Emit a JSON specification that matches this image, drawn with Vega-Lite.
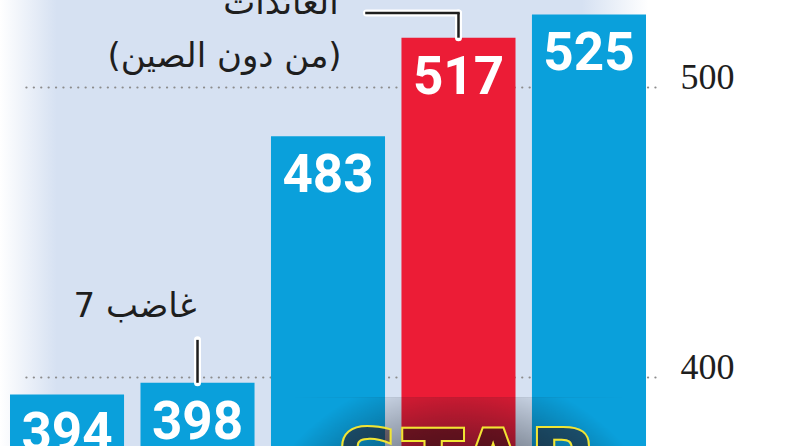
{
  "$schema": "https://vega.github.io/schema/vega-lite/v6.json",
  "width": 665,
  "height": 446,
  "autosize": {"type": "none"},
  "padding": {"left": 0, "top": 0, "right": 127, "bottom": 0},
  "background": "#ffffff",
  "config": {
    "view": {
      "stroke": null,
      "fill": {
        "gradient": "linear",
        "x1": 0, "y1": 0, "x2": 1, "y2": 0,
        "stops": [
          {"offset": 0, "color": "#ffffff"},
          {"offset": 0.085, "color": "#d6e1f2"},
          {"offset": 0.875, "color": "#d6e1f2"},
          {"offset": 0.975, "color": "#ffffff"},
          {"offset": 1, "color": "#ffffff"}
        ]
      }
    }
  },
  "datasets": {
    "bars": [
      {"film": "المنتقمون: عصر ألترون", "value": 394, "type": "other"},
      {"film": "غاضب 7", "value": 398, "type": "other"},
      {"film": "هاري بوتر", "value": 483, "type": "other"},
      {"film": "حرب النجوم", "value": 517, "type": "current"},
      {"film": "عالم الديناصورات", "value": 525, "type": "other"}
    ]
  },
  "data": {"name": "bars"},
  "encoding": {
    "x": {
      "field": "film",
      "type": "nominal",
      "sort": null,
      "axis": null,
      "scale": {"range": [10, 646], "paddingInner": 0.126, "paddingOuter": 0}
    }
  },
  "layer": [
    {
      "mark": {"type": "bar", "clip": true},
      "encoding": {
        "y": {
          "field": "value",
          "type": "quantitative",
          "scale": {"domain": [376.2, 530], "zero": false, "nice": false},
          "axis": {
            "orient": "right",
            "values": [400, 500],
            "grid": true,
            "gridDash": [0.1, 7.3],
            "gridCap": "round",
            "gridWidth": 2.2,
            "gridColor": "#8c8c8c",
            "ticks": false,
            "domain": false,
            "title": null,
            "labelFont": "Liberation Serif",
            "labelFontSize": 36,
            "labelColor": "#1e1e1e",
            "labelBaseline": "alphabetic",
            "labelAlign": "left",
            "labelPadding": 15,
            "labelOffset": 2
          }
        },
        "color": {
          "field": "type",
          "type": "nominal",
          "legend": null,
          "scale": {"domain": ["other", "current"], "range": ["#0aa0db", "#ec1c36"]}
        }
      }
    },
    {
      "mark": {"type": "text", "font": "Roboto", "fontWeight": "bold", "fontSize": 53, "fill": "#ffffff", "baseline": "alphabetic", "dy": 56, "clip": true},
      "encoding": {
        "y": {"field": "value", "type": "quantitative"},
        "text": {"field": "value", "type": "quantitative"}
      }
    },
    {
      "data": {"values": [{"film": "حرب النجوم", "top": 393, "bottom": 376.2}]},
      "mark": {
        "type": "bar",
        "clip": true,
        "width": {"band": 3},
        "fill": {
          "gradient": "radial",
          "x1": 0.5, "y1": 1, "r1": 0,
          "x2": 0.5, "y2": 1, "r2": 0.65,
          "stops": [
            {"offset": 0, "color": "rgba(8,15,25,0.9)"},
            {"offset": 0.55, "color": "rgba(8,15,25,0.6)"},
            {"offset": 1, "color": "rgba(8,15,25,0)"}
          ]
        }
      },
      "encoding": {
        "y": {"field": "top", "type": "quantitative"},
        "y2": {"field": "bottom"}
      }
    },
    {
      "data": {"values": [{"film": "حرب النجوم", "y": 384.5, "label": "STAR"}]},
      "mark": {"type": "text", "font": "DejaVu Sans", "fontWeight": "bold", "fontSize": 92, "baseline": "top", "dx": 9, "fill": "#2a0c10", "fillOpacity": 0.5, "stroke": "#f2e534", "strokeWidth": 2, "clip": true},
      "encoding": {
        "y": {"field": "y", "type": "quantitative"},
        "text": {"field": "label"}
      }
    },
    {
      "data": {"values": [{"film": "حرب النجوم", "y": 525.5, "y2": 517}, {"film": "غاضب 7", "y": 412.8, "y2": 398}]},
      "mark": {"type": "rule", "stroke": "#ffffff", "strokeWidth": 7, "strokeCap": "round"},
      "encoding": {"y": {"field": "y", "type": "quantitative"}, "y2": {"field": "y2"}}
    },
    {
      "data": {"values": [{"film": "حرب النجوم", "y": 525.5}]},
      "mark": {"type": "rule", "stroke": "#ffffff", "strokeWidth": 7, "strokeCap": "round", "x2Offset": -92},
      "encoding": {"x2": {"field": "film"}, "y": {"field": "y", "type": "quantitative"}}
    },
    {
      "data": {"values": [{"film": "حرب النجوم", "y": 525.5, "y2": 517}, {"film": "غاضب 7", "y": 412.8, "y2": 398}]},
      "mark": {"type": "rule", "stroke": "#1e1e1e", "strokeWidth": 2.5},
      "encoding": {"y": {"field": "y", "type": "quantitative"}, "y2": {"field": "y2"}}
    },
    {
      "data": {"values": [{"film": "حرب النجوم", "y": 525.5}]},
      "mark": {"type": "rule", "stroke": "#1e1e1e", "strokeWidth": 2.5, "strokeCap": "square", "x2Offset": -92},
      "encoding": {"x2": {"field": "film"}, "y": {"field": "y", "type": "quantitative"}}
    },
    {
      "data": {"values": [{"film": "هاري بوتر", "y": 525.2, "label": "العائدات"}]},
      "mark": {"type": "text", "font": "DejaVu Sans", "fontSize": 34, "fill": "#1e1e1e", "baseline": "alphabetic", "align": "center", "dx": -47},
      "encoding": {"y": {"field": "y", "type": "quantitative"}, "text": {"field": "label"}}
    },
    {
      "data": {"values": [{"film": "غاضب 7", "y": 506.9, "label": "(من دون الصين)"}]},
      "mark": {"type": "text", "font": "DejaVu Sans", "fontSize": 34, "fill": "#1e1e1e", "baseline": "alphabetic", "align": "center", "dx": 27},
      "encoding": {"y": {"field": "y", "type": "quantitative"}, "text": {"field": "label"}}
    },
    {
      "data": {"values": [{"film": "المنتقمون: عصر ألترون", "y": 420.7, "label": "غاضب 7"}]},
      "mark": {"type": "text", "font": "DejaVu Sans", "fontSize": 34, "fill": "#1e1e1e", "baseline": "alphabetic", "align": "center", "dx": 68},
      "encoding": {"y": {"field": "y", "type": "quantitative"}, "text": {"field": "label"}}
    }
  ]
}
